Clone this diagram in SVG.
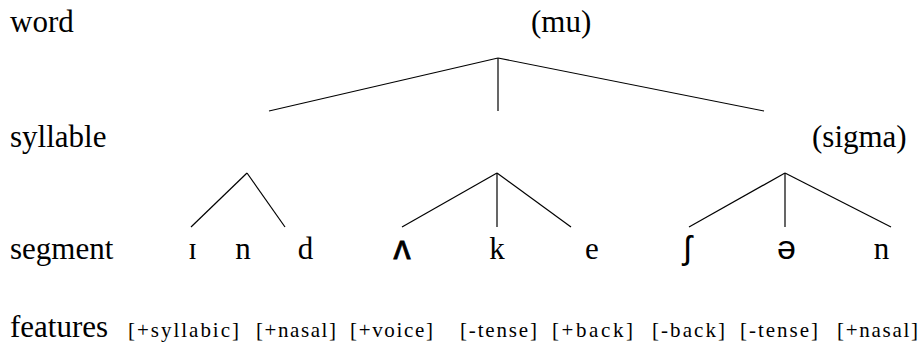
<svg xmlns="http://www.w3.org/2000/svg" width="923" height="349" viewBox="0 0 923 349">
<style>
.lbl{font-family:"Liberation Serif","Times New Roman",serif;font-size:31px;fill:#000}
.seg{font-family:"Liberation Serif","Times New Roman",serif;font-size:31px;fill:#000;text-anchor:middle}
.ipa{font-family:"Liberation Sans",Arial,"DejaVu Sans",sans-serif;font-size:34px;fill:#000;text-anchor:middle}
.heavy{stroke:#000;stroke-width:0.8}
.feat{font-family:"Liberation Serif","Times New Roman",serif;font-size:21px;fill:#000}
.edge{stroke:#000;stroke-width:1.2;fill:none}
</style>
<rect width="923" height="349" fill="#fff"/>
<g id="level-labels">
<text class="lbl" x="10" y="32">word</text>
<text class="lbl" x="10" y="147">syllable</text>
<text class="lbl" x="10" y="259">segment</text>
<text class="lbl" x="10" y="337">features</text>
</g>
<g id="node-mu"><text class="lbl" x="531" y="32">(mu)</text></g>
<g id="node-sigma"><text class="lbl" x="812" y="147">(sigma)</text></g>
<g id="seg-1"><text class="seg" x="192.5" y="259">ɪ</text></g>
<g id="seg-2"><text class="seg" x="243" y="259">n</text></g>
<g id="seg-3"><text class="seg" x="305.5" y="259">d</text></g>
<g id="seg-4"><text class="ipa heavy" x="402" y="259">ʌ</text></g>
<g id="seg-5"><text class="seg" x="497" y="259">k</text></g>
<g id="seg-6"><text class="seg" x="592" y="259">e</text></g>
<g id="seg-7"><text class="ipa" x="687.5" y="259">ʃ</text></g>
<g id="seg-8"><text class="ipa" x="786.5" y="259">ə</text></g>
<g id="seg-9"><text class="seg" x="881.5" y="259">n</text></g>
<g id="features">
<text class="feat" x="128" y="337" textLength="111" lengthAdjust="spacing">[+syllabic]</text>
<text class="feat" x="256" y="337" textLength="80" lengthAdjust="spacing">[+nasal]</text>
<text class="feat" x="350" y="337" textLength="83" lengthAdjust="spacing">[+voice]</text>
<text class="feat" x="460" y="337" textLength="77" lengthAdjust="spacing">[-tense]</text>
<text class="feat" x="552" y="337" textLength="81" lengthAdjust="spacing">[+back]</text>
<text class="feat" x="652" y="337" textLength="73" lengthAdjust="spacing">[-back]</text>
<text class="feat" x="740" y="337" textLength="78" lengthAdjust="spacing">[-tense]</text>
<text class="feat" x="837" y="337" textLength="81" lengthAdjust="spacing">[+nasal]</text>
</g>
<g id="connectors" class="edge">
<line x1="498" y1="58" x2="269" y2="111"/>
<line x1="498" y1="58" x2="498" y2="111"/>
<line x1="498" y1="58" x2="764" y2="111"/>
<line x1="247" y1="173" x2="191" y2="227"/>
<line x1="247" y1="173" x2="285" y2="227"/>
<line x1="497" y1="173" x2="402" y2="227"/>
<line x1="497" y1="173" x2="497" y2="227"/>
<line x1="497" y1="173" x2="571" y2="227"/>
<line x1="785" y1="173" x2="689" y2="227"/>
<line x1="785" y1="173" x2="785" y2="227"/>
<line x1="785" y1="173" x2="891" y2="227"/>
</g>
</svg>
